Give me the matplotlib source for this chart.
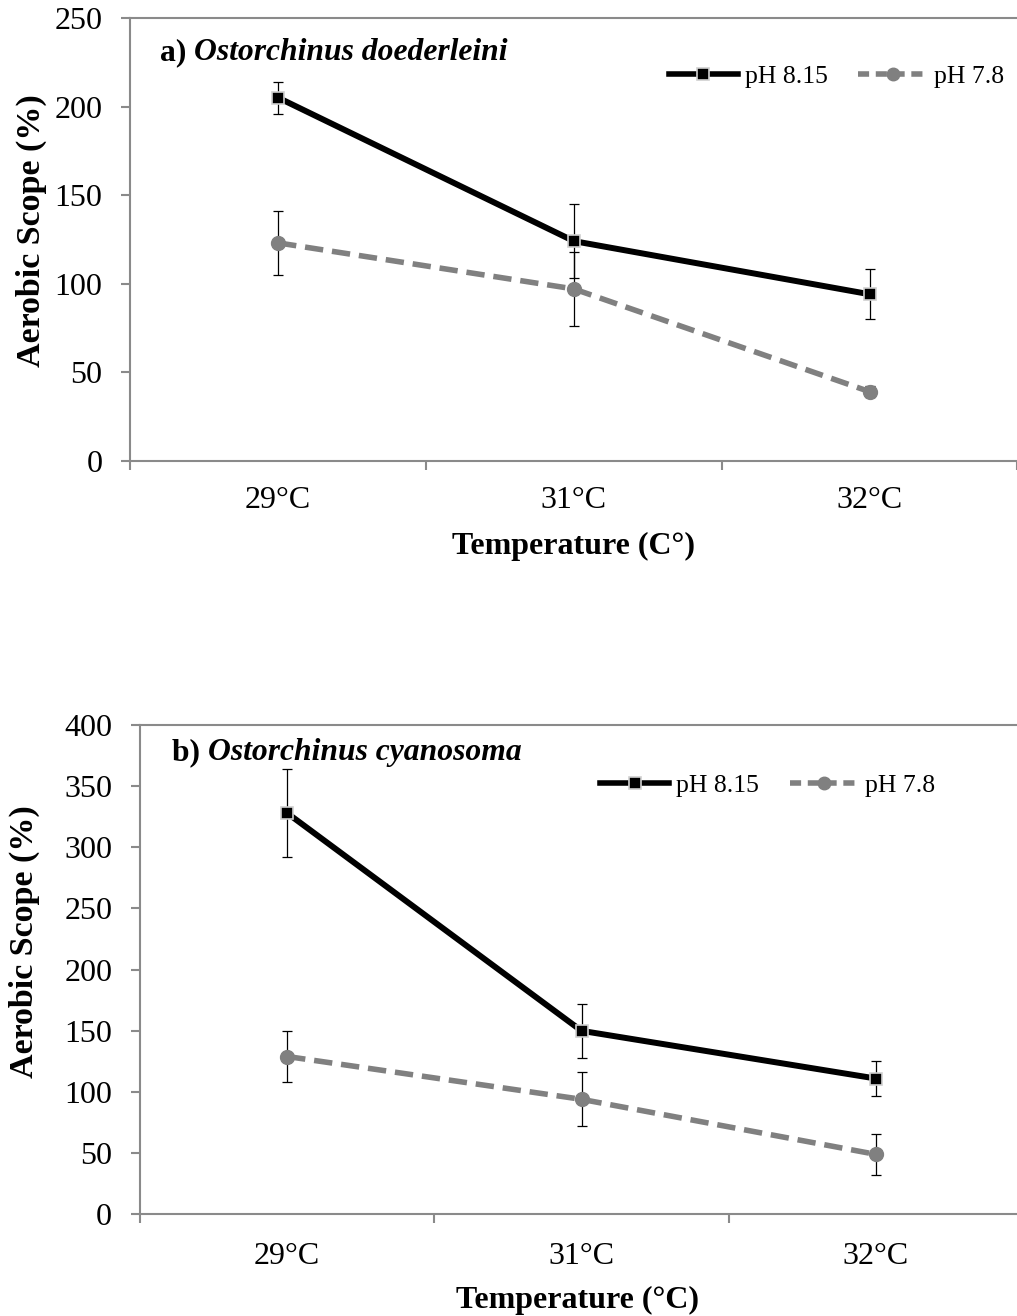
import matplotlib
matplotlib.use("Agg")
import matplotlib.pyplot as plt
from matplotlib.lines import Line2D

plt.rcParams['font.family'] = ['Liberation Serif', 'DejaVu Serif']

# ---- data ----
temps = ["29°C", "31°C", "32°C"]
series_names = ["pH 8.15", "pH 7.8"]

a_ph815 = [205, 124, 94]
a_ph815_err = [9, 21, 14]
a_ph78 = [123, 97, 39]
a_ph78_err = [18, 21, 3]

b_ph815 = [328, 150, 111]
b_ph815_err = [36, 22, 14]
b_ph78 = [129, 94, 49]
b_ph78_err = [21, 22, 17]

W, H = 1017, 1316
fig = plt.figure(figsize=(W / 100, H / 100), dpi=100)

SPINE = '#8a8a8a'
GRAY = '#808080'

def px_axes(l, t, r, b):
    return fig.add_axes([l / W, 1 - b / H, (r - l) / W, (b - t) / H])

def style(ax, ymax, ystep, xlab_pad):
    ax.set_xlim(-0.5, 2.5)
    ax.set_ylim(0, ymax)
    ax.set_yticks(range(0, ymax + 1, ystep))
    ax.set_xticks(range(len(temps)))
    ax.set_xticklabels(temps)
    ax.set_xticks([-0.5, 0.5, 1.5, 2.5], minor=True)
    ax.tick_params(axis='x', which='major', length=0, pad=xlab_pad, labelsize=23)
    ax.tick_params(axis='x', which='minor', length=6.5, width=1.5, color=SPINE, direction='out')
    ax.tick_params(axis='y', which='major', length=6.5, width=1.5, color=SPINE, direction='out',
                   pad=13.5, labelsize=23)
    for s in ax.spines.values():
        s.set_color(SPINE)
        s.set_linewidth(1.5)
    ax.spines['right'].set_visible(False)

def plot_series(ax, y1, e1, y2, e2):
    x = list(range(len(temps)))
    ax.errorbar(x, y2, yerr=e2, fmt='none', ecolor='black', elinewidth=0.9, capsize=3.5,
                capthick=0.9, zorder=2)
    ax.errorbar(x, y1, yerr=e1, fmt='none', ecolor='black', elinewidth=0.9, capsize=3.5,
                capthick=0.9, zorder=2)
    ax.plot(x, y2, color=GRAY, lw=4.0, dashes=(3.3, 1.6), marker='o', markersize=10,
            markerfacecolor=GRAY, markeredgecolor=GRAY, zorder=3)
    ax.plot(x, y1, color='black', lw=4.3, marker='s', markersize=8.8,
            markerfacecolor='black', markeredgecolor='#d0d0d0', markeredgewidth=1.2, zorder=4)

def legend(ax, bx, by):
    h1 = Line2D([], [], color='black', lw=4.0, marker='s', markersize=8,
                markerfacecolor='black', markeredgecolor='#d0d0d0', markeredgewidth=1.2)
    h2 = Line2D([], [], color=GRAY, lw=4.0, dashes=(2.0, 1.2), marker='o', markersize=9,
                markerfacecolor=GRAY, markeredgecolor=GRAY)
    ax.legend([h1, h2], series_names, loc='center left', bbox_to_anchor=(bx, by), ncol=2,
              frameon=False, fontsize=18.5, handlelength=2.7, handletextpad=0.25,
              columnspacing=1.2, borderaxespad=0, borderpad=0)

def panel_title(ax, x, y, letter, species):
    t1 = fig.text(x / W, 1 - y / H, letter, fontsize=22.8, fontweight='bold', va='baseline')
    ax.annotate(species, xy=(1, 0), xycoords=t1, xytext=(0, 0), textcoords='offset points',
                fontsize=22.8, fontweight='bold', fontstyle='italic', va='bottom', ha='left')

# ---- panel a ----
ax1 = px_axes(130.3, 18, 1017.4, 460.7)
style(ax1, 250, 50, 18)
plot_series(ax1, a_ph815, a_ph815_err, a_ph78, a_ph78_err)
legend(ax1, 0.607, 0.867)
panel_title(ax1, 160, 60, "a) ", "Ostorchinus doederleini")
fig.text(574 / W, 1 - 554 / H, "Temperature (C°)", fontsize=23, fontweight='bold',
         ha='center', va='baseline')
fig.text(31 / W, 1 - 231 / H, "Aerobic Scope (%)", fontsize=24.5, fontweight='bold',
         ha='center', va='center', rotation=90)

# ---- panel b ----
ax2 = px_axes(140, 725, 1023, 1214.3)
style(ax2, 400, 50, 20)
plot_series(ax2, b_ph815, b_ph815_err, b_ph78, b_ph78_err)
legend(ax2, 0.521, 0.877)
panel_title(ax2, 172, 760, "b) ", "Ostorchinus cyanosoma")
fig.text(578 / W, 1 - 1308 / H, "Temperature (°C)", fontsize=23, fontweight='bold',
         ha='center', va='baseline')
fig.text(24 / W, 1 - 942 / H, "Aerobic Scope (%)", fontsize=24.5, fontweight='bold',
         ha='center', va='center', rotation=90)

fig.savefig("out.png", dpi=100)
